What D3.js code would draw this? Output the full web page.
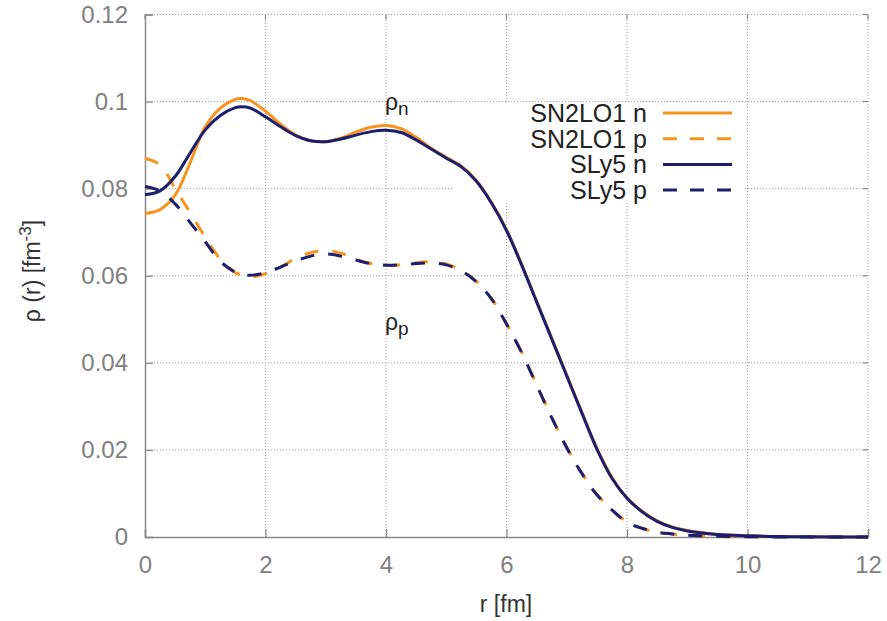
<!DOCTYPE html>
<html><head><meta charset="utf-8">
<script src="https://cdn.jsdelivr.net/npm/d3@7"></script>
<style>body{margin:0;background:#fff}svg{display:block;font-family:"Liberation Sans",Arial,sans-serif}</style>
</head><body><svg id="c" width="887" height="621"></svg>
<script>
// radius grid (fm)
const rGrid = [0,0.25,0.5,0.75,1.0,1.25,1.5,1.6,1.75,2.0,2.25,2.5,2.75,3.0,3.25,3.5,3.75,4.0,4.25,4.5,4.75,5.0,5.25,5.5,5.75,6.0,6.25,6.5,6.75,7.0,7.25,7.5,7.75,8.0,8.25,8.5,8.75,9.0,9.5,10,10.5,11,12];
const sn2lo1N = [0.0743,0.0752,0.0785,0.0860,0.0942,0.0985,0.1005,0.1007,0.1002,0.0978,0.0948,0.0923,0.0910,0.0908,0.0916,0.0930,0.0941,0.0945,0.0938,0.0918,0.0893,0.0872,0.0852,0.0819,0.0769,0.0706,0.0627,0.0542,0.0457,0.0372,0.0287,0.0204,0.0137,0.0090,0.0059,0.0037,0.0023,0.0015,0.0006,0.0003,0.0001,0.00005,0.00001];
const sly5N   = [0.0786,0.0795,0.0828,0.0882,0.0935,0.0968,0.0986,0.0988,0.0985,0.0965,0.0942,0.0922,0.0910,0.0908,0.0914,0.0923,0.0931,0.0934,0.0929,0.0912,0.0891,0.0870,0.0850,0.0817,0.0767,0.0704,0.0625,0.0540,0.0455,0.0370,0.0285,0.0202,0.0135,0.0089,0.0058,0.0036,0.0022,0.0014,0.0006,0.0003,0.0001,0.00005,0.00001];
const sn2lo1P = [0.0870,0.0855,0.0800,0.0745,0.0688,0.0638,0.0607,0.0602,0.0597,0.0605,0.0620,0.0640,0.0653,0.0658,0.0652,0.0638,0.0628,0.0624,0.0625,0.0630,0.0632,0.0627,0.0612,0.0587,0.0548,0.0490,0.0425,0.0350,0.0275,0.0206,0.0147,0.0098,0.0063,0.0035,0.0020,0.0011,0.0007,0.0004,0.00015,0.00005,0.00002,0.00001,0];
const sly5P   = [0.0805,0.0795,0.0765,0.0722,0.0678,0.0633,0.0608,0.0604,0.0601,0.0607,0.0620,0.0634,0.0645,0.0650,0.0645,0.0636,0.0628,0.0624,0.0625,0.0628,0.0629,0.0625,0.0611,0.0586,0.0547,0.0489,0.0424,0.0349,0.0274,0.0205,0.0146,0.0097,0.0062,0.0034,0.0020,0.0011,0.0007,0.0004,0.00015,0.00005,0.00002,0.00001,0];
const xTicks = [0,2,4,6,8,10,12];
const yTicks = [0,0.02,0.04,0.06,0.08,0.1,0.12];
const yTickLabels = ["0","0.02","0.04","0.06","0.08","0.1","0.12"];
const seriesNames = ["SN2LO1 n","SN2LO1 p","SLy5 n","SLy5 p"];
const seriesColors = ["#f7931e","#f7931e","#1b1f6e","#1b1f6e"];
const seriesDashed = [false,true,false,true];
const seriesValues = [sn2lo1N,sn2lo1P,sly5N,sly5P];

const svg = d3.select("#c");
const x = d3.scaleLinear().domain([0,12]).range([145,868]);
const y = d3.scaleLinear().domain([0,0.12]).range([537,14.5]);
const gridCol = "#9a9a9a", axisCol = "#8a8a8a";

// grid
const g = svg.append("g");
g.selectAll(".gx").data(xTicks.slice(1)).join("line")
  .attr("x1",d=>x(d)).attr("x2",d=>x(d)).attr("y1",y(0)).attr("y2",y(0.12))
  .attr("stroke",gridCol).attr("stroke-width",1).attr("stroke-dasharray","1,2");
g.selectAll(".gy").data(yTicks.slice(1)).join("line")
  .attr("x1",x(0)).attr("x2",x(12)).attr("y1",d=>y(d)).attr("y2",d=>y(d))
  .attr("stroke",gridCol).attr("stroke-width",1).attr("stroke-dasharray","1,2");

// legend opaque box
svg.append("rect").attr("x",452).attr("y",102).attr("width",293).attr("height",101).attr("fill","#fff");

// axes
const ax = svg.append("g").attr("transform",`translate(0,${y(0)})`)
  .call(d3.axisBottom(x).tickValues(xTicks).tickSize(-8).tickPadding(14).tickFormat(d3.format("d")));
const ay = svg.append("g").attr("transform",`translate(${x(0)},0)`)
  .call(d3.axisLeft(y).tickValues(yTicks).tickSize(-8).tickPadding(17).tickFormat((d,i)=>yTickLabels[i]));
[ax,ay].forEach(a=>{
  a.select(".domain").attr("stroke",axisCol).attr("stroke-width",1.5);
  a.selectAll(".tick line").attr("stroke",axisCol).attr("stroke-width",1.2);
  a.selectAll(".tick text").attr("fill","#808080").attr("font-size",24).attr("font-family","Liberation Sans, Arial, sans-serif");
});
ax.selectAll(".tick text").attr("dy","0.9em");
// mirrored ticks
svg.append("g").selectAll("line").data(yTicks).join("line")
  .attr("x1",x(12)).attr("x2",x(12)-5).attr("y1",d=>y(d)).attr("y2",d=>y(d)).attr("stroke",axisCol).attr("stroke-width",1.2);
svg.append("g").selectAll("line").data(xTicks).join("line")
  .attr("x1",d=>x(d)).attr("x2",d=>x(d)).attr("y1",y(0.12)).attr("y2",y(0.12)+5).attr("stroke",axisCol).attr("stroke-width",1.2);

// curves (orange first, navy on top)
const line = d3.line().x(d=>x(d[0])).y(d=>y(Math.max(0,d[1]))).curve(d3.curveCatmullRom.alpha(0.5));
[0,1,2,3].forEach(i=>{
  const vals = seriesValues[i];
  svg.append("path").datum(rGrid.map((r,j)=>[r,vals[j]]))
    .attr("d",line).attr("fill","none").attr("stroke",seriesColors[i]).attr("stroke-width",3)
    .attr("stroke-dasharray",seriesDashed[i]?"14,14":null);
});

// legend
const lg = svg.append("g");
seriesNames.forEach((n,i)=>{
  const yy = 113 + i*25.7;
  lg.append("text").attr("x",647).attr("y",yy).attr("text-anchor","end").attr("dominant-baseline","central")
    .attr("font-size",25).attr("fill","#222").text(n);
  lg.append("line").attr("x1",663).attr("x2",732).attr("y1",yy).attr("y2",yy)
    .attr("stroke",seriesColors[i]).attr("stroke-width",3).attr("stroke-dasharray",seriesDashed[i]?"14,13":null);
});

// annotations
function rhoLabel(px,py,sub){
  const t = svg.append("text").attr("x",px).attr("y",py).attr("font-size",23).attr("fill","#222");
  t.append("tspan").text("ρ");
  t.append("tspan").attr("dy",5).attr("font-size",19).text(sub);
}
rhoLabel(385,110,"n");
rhoLabel(385,330,"p");

// axis titles
svg.append("text").attr("x",506).attr("y",612).attr("text-anchor","middle").attr("font-size",23).attr("fill","#333").text("r [fm]");
const yt = svg.append("text").attr("transform","translate(40,271) rotate(-90)").attr("text-anchor","middle")
  .attr("font-size",23).attr("fill","#333");
yt.append("tspan").text("ρ (r) [fm");
yt.append("tspan").attr("dy",-9).attr("font-size",17).text("-3");
yt.append("tspan").attr("dy",9).text("]");
</script></body></html>
